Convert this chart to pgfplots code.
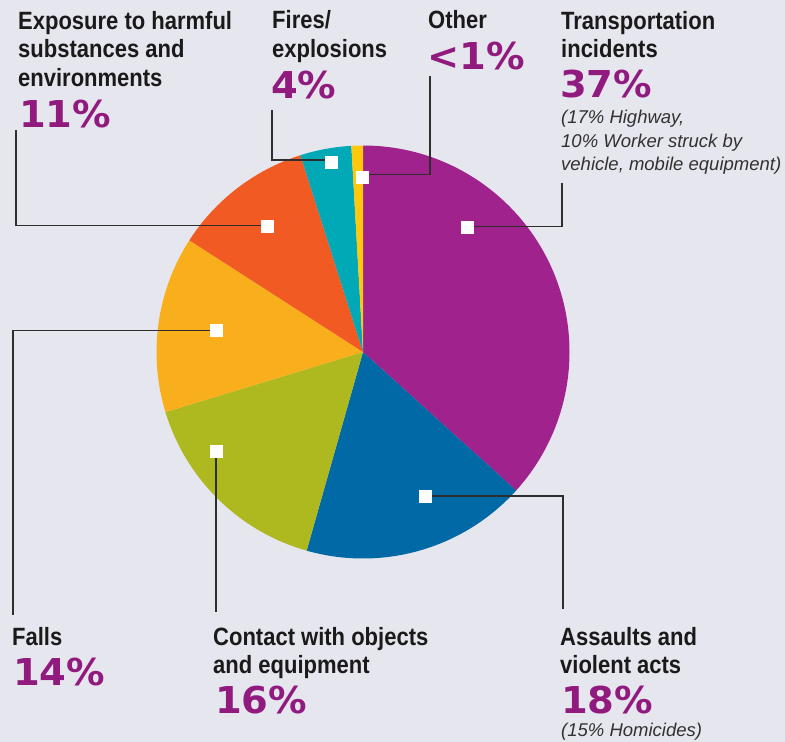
\documentclass[border=0pt]{standalone}
\usepackage{pgfplots}
\pgfplotsset{compat=1.18}
\usepackage{fontspec}
\setmainfont{Liberation Sans}
\newfontfamily\lab{Liberation Sans}[FakeStretch=0.88]
\newfontfamily\pct{DejaVu Sans}[FakeStretch=1.04]
\newfontfamily\note{Liberation Sans}

\definecolor{bg}{HTML}{E6E6EE}
\definecolor{ctrans}{HTML}{A0228C}
\definecolor{cassault}{HTML}{0069A6}
\definecolor{ccontact}{HTML}{AEB81F}
\definecolor{cfalls}{HTML}{F9AE1B}
\definecolor{cexpo}{HTML}{F15A23}
\definecolor{cfire}{HTML}{00A9B5}
\definecolor{cother}{HTML}{FFC80B}
\definecolor{pcol}{HTML}{911A7E}
\definecolor{txt}{HTML}{1A1A1A}
\definecolor{leader}{HTML}{2E2E2E}

% category labels: name lines at baselines, then the share
\newcommand{\lbl}[3]{\node[anchor=base west,inner sep=0pt,text=txt,font=\lab\bfseries\fontsize{25}{28}\selectfont] at (axis cs:#1,#2) {#3};}
\newcommand{\pc}[3]{\node[anchor=base west,inner sep=0pt,text=pcol,font=\pct\bfseries\fontsize{37}{40}\selectfont] at (axis cs:#1,#2) {#3};}
\newcommand{\nt}[3]{\node[anchor=base west,inner sep=0pt,text=txt!90,font=\note\itshape\fontsize{18.5}{22}\selectfont] at (axis cs:#1,#2) {#3};}

\begin{document}
\begin{tikzpicture}
\begin{axis}[
    scale only axis,
    width=785pt, height=742pt,
    xmin=0, xmax=785, ymin=0, ymax=742,
    y dir=reverse,
    hide axis,
    clip=false,
]
% background
\addplot[fill=bg, draw=none] coordinates {(0,0) (785,0) (785,742) (0,742)} -- cycle;

% pie wedges, shares in percent, clockwise from 12 o'clock
\pgfplotsextra{
  \gdef\acc{90}
  \foreach \p/\c in {36.7/ctrans, 17.7/cassault, 15.9/ccontact, 13.8/cfalls,
                     11.0/cexpo, 4.0/cfire, 0.9/cother} {
    \pgfmathsetmacro\nxt{\acc-3.6*\p}
    \fill[\c] (axis cs:363,352) -- ++(\acc:206.5pt)
      arc[start angle=\acc, end angle=\nxt, radius=206.5pt] -- cycle;
    \global\let\acc\nxt
  }
}

% leader lines
\addplot[leader, line width=1.4pt, mark=none] coordinates {(16,130) (16,225.5) (262,225.5)};
\addplot[leader, line width=1.4pt, mark=none] coordinates {(272,110) (272,160) (326,160)};
\addplot[leader, line width=1.4pt, mark=none] coordinates {(430,76) (430,174.5) (364,174.5)};
\addplot[leader, line width=1.4pt, mark=none] coordinates {(562,183) (562,226.5) (468,226.5)};
\addplot[leader, line width=1.4pt, mark=none] coordinates {(426,496) (563,496) (563,609)};
\addplot[leader, line width=1.4pt, mark=none] coordinates {(216,451) (216,612)};
\addplot[leader, line width=1.4pt, mark=none] coordinates {(216,330.5) (13,330.5) (13,615)};

% white markers
\addplot[only marks, white, mark=square*, mark size=5.7pt,
  mark options={draw=white, fill=white, line width=0.4pt}]
  coordinates {(267,226) (331,162) (362,177) (467,227) (425,496) (216,451) (216,330)};

% texts
\lbl{18}{29.5}{Exposure to harmful}
\lbl{18}{57.5}{substances and}
\lbl{18}{86}{environments}
\pc{19}{127}{11\%}

\lbl{272}{28.5}{Fires/}
\lbl{272}{57}{explosions}
\pc{271}{98}{4\%}

\lbl{428}{28.5}{Other}
\pc{427}{69}{<1\%}

\lbl{561}{29.5}{Transportation}
\lbl{561}{57.5}{incidents}
\pc{560}{97}{37\%}
\nt{561}{123}{(17\% Highway,}
\nt{561}{147}{10\% Worker struck by}
\nt{561}{170.5}{vehicle, mobile equipment)}

\lbl{12}{645}{Falls}
\pc{13}{685}{14\%}

\lbl{213}{645}{Contact with objects}
\lbl{213}{673}{and equipment}
\pc{215}{713}{16\%}

\lbl{560}{645}{Assaults and}
\lbl{560}{673}{violent acts}
\pc{561}{713}{18\%}
\nt{561}{736}{(15\% Homicides)}
\end{axis}
\end{tikzpicture}
\end{document}
